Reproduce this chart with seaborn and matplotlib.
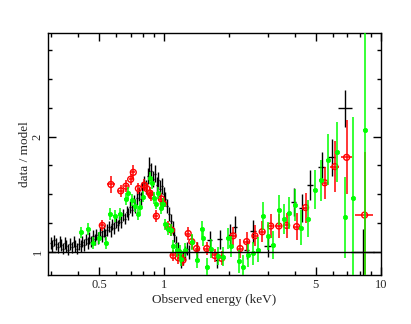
import numpy as np
import pandas as pd
import matplotlib
matplotlib.use("Agg")
import matplotlib.pyplot as plt
import matplotlib.ticker as mticker
import seaborn as sns

# ---------------- data ----------------
# black: dense low-energy spectrum
black_e = [0.300, 0.305, 0.311, 0.317, 0.323, 0.329, 0.335, 0.341, 0.348, 0.354,
           0.361, 0.368, 0.375, 0.382, 0.389, 0.396, 0.404, 0.411, 0.419, 0.427,
           0.435, 0.443, 0.452, 0.460, 0.469, 0.478, 0.487, 0.496, 0.505, 0.515,
           0.525, 0.535, 0.545, 0.555, 0.566, 0.576, 0.587, 0.598, 0.610, 0.621,
           0.633, 0.645, 0.657, 0.670, 0.682, 0.695, 0.709, 0.722, 0.736, 0.750,
           0.764, 0.779, 0.793, 0.809, 0.824, 0.840, 0.855, 0.872, 0.888, 0.905,
           0.922, 0.940, 0.958, 0.976, 0.994, 1.013, 1.033, 1.052, 1.072, 1.093,
           1.113, 1.135, 1.156, 1.178, 1.201, 1.224, 1.247, 1.271, 1.295]
black_r = [1.08, 1.05, 1.10, 1.07, 1.04, 1.09, 1.06, 1.03, 1.08, 1.05,
           1.02, 1.07, 1.04, 1.09, 1.05, 1.03, 1.07, 1.05, 1.09, 1.06,
           1.11, 1.08, 1.12, 1.09, 1.14, 1.11, 1.15, 1.12, 1.17, 1.14,
           1.18, 1.15, 1.19, 1.22, 1.18, 1.24, 1.21, 1.26, 1.23, 1.29,
           1.26, 1.32, 1.29, 1.35, 1.33, 1.39, 1.36, 1.43, 1.40, 1.47,
           1.50, 1.46, 1.55, 1.60, 1.56, 1.66, 1.75, 1.70, 1.63, 1.68,
           1.58, 1.62, 1.55, 1.57, 1.50, 1.46, 1.40, 1.33, 1.27, 1.21,
           1.15, 1.08, 1.03, 0.97, 0.92, 0.95, 0.99, 1.03, 1.00]
black_err = [0.05, 0.05, 0.05, 0.05, 0.05, 0.05, 0.05, 0.05, 0.05, 0.05,
             0.05, 0.05, 0.05, 0.05, 0.05, 0.05, 0.05, 0.05, 0.05, 0.05,
             0.05, 0.05, 0.05, 0.05, 0.05, 0.05, 0.05, 0.05, 0.05, 0.05,
             0.05, 0.05, 0.05, 0.05, 0.05, 0.05, 0.05, 0.05, 0.05, 0.05,
             0.05, 0.05, 0.05, 0.05, 0.05, 0.05, 0.05, 0.06, 0.06, 0.06,
             0.06, 0.06, 0.06, 0.06, 0.06, 0.07, 0.07, 0.07, 0.07, 0.07,
             0.07, 0.07, 0.07, 0.07, 0.06, 0.06, 0.06, 0.06, 0.06, 0.06,
             0.06, 0.06, 0.06, 0.06, 0.06, 0.06, 0.06, 0.06, 0.06]

# black: sparse high-energy bins
blackh_e = [1.41, 1.62, 1.75, 1.80, 2.01, 2.12, 2.40, 2.57, 3.00, 3.95, 4.30, 4.70, 5.33, 5.94, 6.82, 8.26]
blackh_r = [1.02, 1.10, 0.93, 1.11, 1.15, 1.22, 1.02, 1.18, 1.05, 1.435, 1.38, 1.58, 1.74, 1.82, 2.245, 1.00]
blackh_err = [0.07, 0.08, 0.07, 0.08, 0.09, 0.09, 0.08, 0.10, 0.09, 0.12, 0.12, 0.13, 0.13, 0.16, 0.16, 0.20]
blackh_xerr = [0.03, 0.04, 0.03, 0.04, 0.05, 0.05, 0.06, 0.07, 0.10, 0.12, 0.13, 0.15, 0.20, 0.22, 0.50, 1.00]

# red
red_e = [0.518, 0.568, 0.63, 0.666, 0.70, 0.72, 0.76, 0.81, 0.83, 0.86, 0.87, 0.92, 0.97, 0.99,
         1.04, 1.08, 1.10, 1.16, 1.22, 1.29, 1.34, 1.41, 1.57, 1.71, 1.84, 2.08, 2.24, 2.40,
         2.62, 2.83, 3.10, 3.38, 3.67, 4.08, 4.49, 5.50, 6.13, 6.94, 8.40]
red_r = [1.23, 1.585, 1.53, 1.57, 1.63, 1.69, 1.55, 1.58, 1.55, 1.51, 1.49, 1.31, 1.46, 1.42,
         1.22, 1.19, 0.97, 0.95, 0.93, 1.16, 1.09, 1.03, 1.03, 0.97, 0.945, 1.14, 1.03, 1.09,
         1.14, 1.175, 1.225, 1.225, 1.23, 1.22, 1.385, 1.60, 1.74, 1.82, 1.32]
red_err = [0.05, 0.07, 0.05, 0.05, 0.05, 0.06, 0.05, 0.05, 0.05, 0.05, 0.05, 0.05, 0.05, 0.05,
           0.05, 0.05, 0.05, 0.05, 0.05, 0.06, 0.06, 0.06, 0.06, 0.06, 0.06, 0.08, 0.08, 0.08,
           0.09, 0.09, 0.10, 0.10, 0.11, 0.12, 0.13, 0.14, 0.22, 0.32, 0.55]
red_xerr = [0.012, 0.025, 0.015, 0.015, 0.015, 0.015, 0.015, 0.015, 0.015, 0.015, 0.015, 0.02, 0.02, 0.02,
            0.02, 0.02, 0.02, 0.02, 0.025, 0.03, 0.03, 0.03, 0.04, 0.04, 0.05, 0.06, 0.06, 0.07,
            0.08, 0.09, 0.10, 0.12, 0.13, 0.15, 0.17, 0.22, 0.30, 0.40, 0.80]

# green
green_e = [0.415, 0.445, 0.47, 0.50, 0.54, 0.56, 0.59, 0.625, 0.665, 0.68, 0.71, 0.73, 0.76, 0.77,
           0.80, 0.86, 0.88, 0.90, 0.92, 0.94, 0.97, 0.99, 1.01, 1.04, 1.08, 1.10, 1.14, 1.18,
           1.20, 1.25, 1.34, 1.41, 1.49, 1.51, 1.57, 1.65, 1.77, 1.87, 1.96, 2.04, 2.21, 2.31,
           2.44, 2.57, 2.71, 2.86, 3.02, 3.18, 3.38, 3.58, 3.76, 4.00, 4.28, 4.62, 4.96, 5.28,
           5.70, 6.30, 6.85, 7.45, 8.43]
green_r = [1.17, 1.20, 1.08, 1.12, 1.08, 1.33, 1.31, 1.33, 1.46, 1.51, 1.45, 1.40, 1.33, 1.39,
           1.48, 1.64, 1.60, 1.47, 1.42, 1.51, 1.38, 1.42, 1.24, 1.20, 1.19, 1.05, 1.015, 1.00,
           0.94, 1.02, 1.09, 0.93, 1.20, 1.12, 0.87, 1.03, 0.965, 0.96, 1.12, 1.05, 0.92, 0.87,
           0.97, 0.99, 1.02, 1.31, 1.14, 1.06, 1.36, 1.29, 1.34, 1.41, 1.21, 1.29, 1.54, 1.62,
           1.80, 1.87, 1.30, 1.47, 2.06]
green_err = [0.05, 0.05, 0.05, 0.05, 0.05, 0.05, 0.05, 0.05, 0.05, 0.05, 0.05, 0.05, 0.05, 0.05,
             0.05, 0.05, 0.05, 0.05, 0.05, 0.05, 0.05, 0.05, 0.05, 0.05, 0.05, 0.05, 0.06, 0.06,
             0.06, 0.06, 0.07, 0.07, 0.07, 0.07, 0.08, 0.08, 0.08, 0.08, 0.09, 0.09, 0.10, 0.10,
             0.10, 0.10, 0.11, 0.12, 0.12, 0.12, 0.13, 0.13, 0.14, 0.14, 0.15, 0.16, 0.17, 0.18,
             0.22, 0.26, 0.35, 0.70, 1.50]
green_xerr = [0.008, 0.008, 0.008, 0.01, 0.01, 0.01, 0.01, 0.01, 0.01, 0.01, 0.01, 0.01, 0.01, 0.01,
              0.01, 0.012, 0.012, 0.012, 0.012, 0.012, 0.012, 0.012, 0.015, 0.015, 0.015, 0.015, 0.015, 0.015,
              0.02, 0.02, 0.02, 0.02, 0.02, 0.02, 0.025, 0.025, 0.03, 0.03, 0.03, 0.03, 0.04, 0.04,
              0.04, 0.04, 0.05, 0.05, 0.05, 0.06, 0.06, 0.06, 0.07, 0.07, 0.08, 0.08, 0.09, 0.09,
              0.10, 0.12, 0.13, 0.15, 0.20]

x_ticks = [0.5, 1, 5, 10]
x_ticklabels = ["0.5", "1", "5", "10"]
y_ticks = [1, 2]
y_ticklabels = ["1", "2"]

# ---------------- plot ----------------
sns.set_theme(style="ticks")
plt.rcParams["font.family"] = ["Liberation Serif", "DejaVu Serif"]

fig = plt.figure(figsize=(4.11, 3.24), dpi=100)
ax = fig.add_axes([0.116, 0.151, 0.811, 0.748])

# black: dense region bin half-widths from neighbouring bin centres
be = np.array(black_e)
edges = np.sqrt(be[1:] * be[:-1])
lo = np.concatenate([[be[0] - (edges[0] - be[0])], edges])
hi = np.concatenate([edges, [be[-1] + (be[-1] - edges[-1])]])
ax.errorbar(be, black_r, yerr=black_err, xerr=[be - lo, hi - be], fmt="none",
            ecolor="black", elinewidth=1.0, capsize=0, zorder=2)
ax.errorbar(blackh_e, blackh_r, yerr=blackh_err, xerr=blackh_xerr, fmt="none",
            ecolor="black", elinewidth=1.0, capsize=0, zorder=2)

ax.errorbar(red_e, red_r, yerr=red_err, xerr=red_xerr, fmt="none",
            ecolor="#ff0000", elinewidth=1.1, capsize=0, zorder=3)
ax.errorbar(green_e, green_r, yerr=green_err, xerr=green_xerr, fmt="none",
            ecolor="#00ff00", elinewidth=1.1, capsize=0, zorder=4)

red_df = pd.DataFrame({"energy": red_e, "ratio": red_r})
green_df = pd.DataFrame({"energy": green_e, "ratio": green_r})
sns.scatterplot(data=red_df, x="energy", y="ratio", ax=ax, marker="o", s=18,
                facecolor="none", edgecolor="#ff0000", linewidth=1.0, zorder=3)
sns.scatterplot(data=green_df, x="energy", y="ratio", ax=ax, marker="o", s=10,
                color="#00ff00", edgecolor="#00ff00", linewidth=0.5, zorder=5)

ax.axhline(1.0, color="black", lw=1.0, zorder=6)

ax.set_xscale("log")
ax.set_xlim(0.29, 10)
ax.set_ylim(0.8, 2.9)

ax.xaxis.set_major_locator(mticker.FixedLocator(x_ticks))
ax.xaxis.set_major_formatter(mticker.FixedFormatter(x_ticklabels))
ax.xaxis.set_minor_locator(mticker.FixedLocator([0.3, 0.4, 0.6, 0.7, 0.8, 0.9, 2, 3, 4, 6, 7, 8, 9]))
ax.xaxis.set_minor_formatter(mticker.NullFormatter())
ax.yaxis.set_major_locator(mticker.FixedLocator(y_ticks))
ax.yaxis.set_major_formatter(mticker.FixedFormatter(y_ticklabels))
ax.yaxis.set_minor_locator(mticker.MultipleLocator(0.25))

ax.tick_params(which="both", direction="in", top=True, right=True, color="black", width=1.0)
ax.tick_params(which="major", length=6, labelsize=9, pad=3)
ax.tick_params(which="minor", length=3)
for lab in ax.get_yticklabels():
    lab.set_rotation(90)
    lab.set_va("center")

for sp in ax.spines.values():
    sp.set_color("black")
    sp.set_linewidth(1.0)

ax.set_xlabel("Observed energy (keV)", fontsize=9.5, labelpad=2)
ax.set_ylabel("data / model", fontsize=9.5, labelpad=0.5)
ax.grid(False)

fig.savefig("out.png", dpi=100, facecolor="white")
